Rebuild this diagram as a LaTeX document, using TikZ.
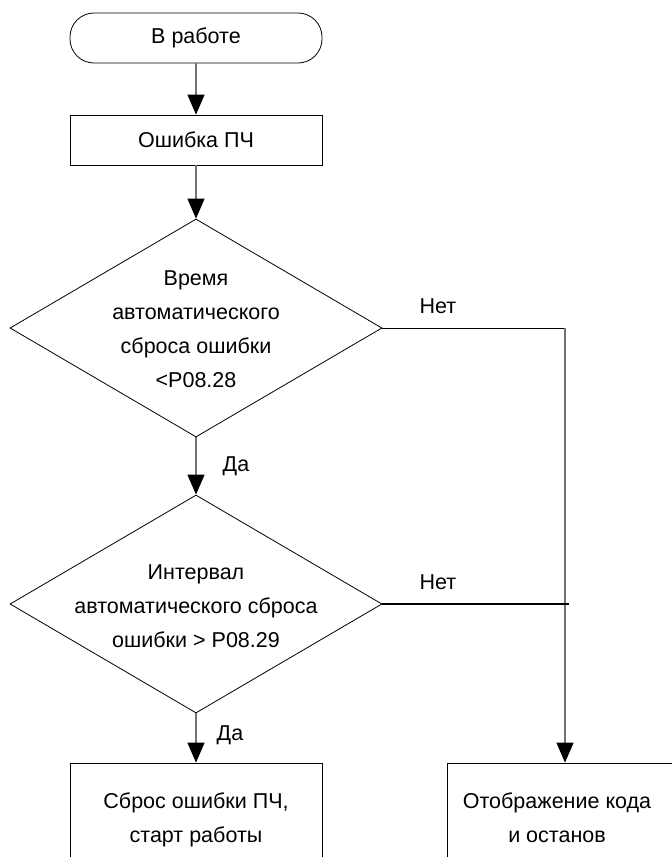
\documentclass[tikz,border=0pt]{standalone}
\usepackage{fontspec}
\setmainfont{Liberation Sans}
\usetikzlibrary{shapes.geometric,arrows.meta}
\begin{document}
\begin{tikzpicture}[x=1pt,y=-1pt,
  every node/.style={font=\fontsize{21.5}{34}\selectfont, inner sep=0pt},
  shape outline/.style={draw=black, line width=0.8pt},
  termbox/.style={shape outline, rectangle, rounded corners=24pt, minimum width=252pt, minimum height=50pt},
  procbox/.style={shape outline, rectangle, minimum width=252pt, minimum height=50pt},
  decbox/.style={shape outline, diamond, minimum width=372pt, minimum height=218pt},
  conn/.style={draw=black!55, line width=1.3pt, -{Triangle[length=20pt,width=17pt,color=black]}},
  hline/.style={draw=black, line width=0.8pt},
  txt/.style={align=center}
]
\path[use as bounding box] (0,0) rectangle (672,857);
\clip (0,0) rectangle (672,857);

\node[termbox] (term) at (196,38) {В работе};
\node[procbox] (box1) at (196,140) {Ошибка ПЧ};
\node[decbox] (d1) at (196,328) {};
\node[txt] (t1) at (196,329) {Время\\автоматического\\сброса ошибки\\<P08.28};
\node[decbox] (d2) at (196,604) {};
\node[txt] (t2) at (196,606) {Интервал\\автоматического сброса\\ошибки > P08.29};
\node[procbox, minimum height=120pt] (b3) at (196,823) {};
\node[txt] (t3) at (196,820) {Сброс ошибки ПЧ,\\старт работы};
\node[procbox, minimum width=236pt, minimum height=120pt] (b4) at (565,823) {};
\node[txt] (t4) at (557,818) {Отображение кода\\и останов};

\node (no1) at (438,306) {Нет};
\node (no2) at (438,582) {Нет};
\node (yes1) at (236,466) {Да};
\node (yes2) at (230,735) {Да};

\coordinate (c1) at (b4.north |- d1.east);
\coordinate (c2) at (569,604);

\draw[conn] (term) -- (box1);
\draw[conn] (box1) -- (d1);
\draw[conn] (d1) -- (d2);
\draw[conn] (d2) -- (b3);
\draw[hline] (d1.east) -- (c1);
\draw[conn] (c1) -- (b4.north);
\draw[draw=black, line width=2.5pt] (d2.east) -- (c2);
\end{tikzpicture}
\end{document}
